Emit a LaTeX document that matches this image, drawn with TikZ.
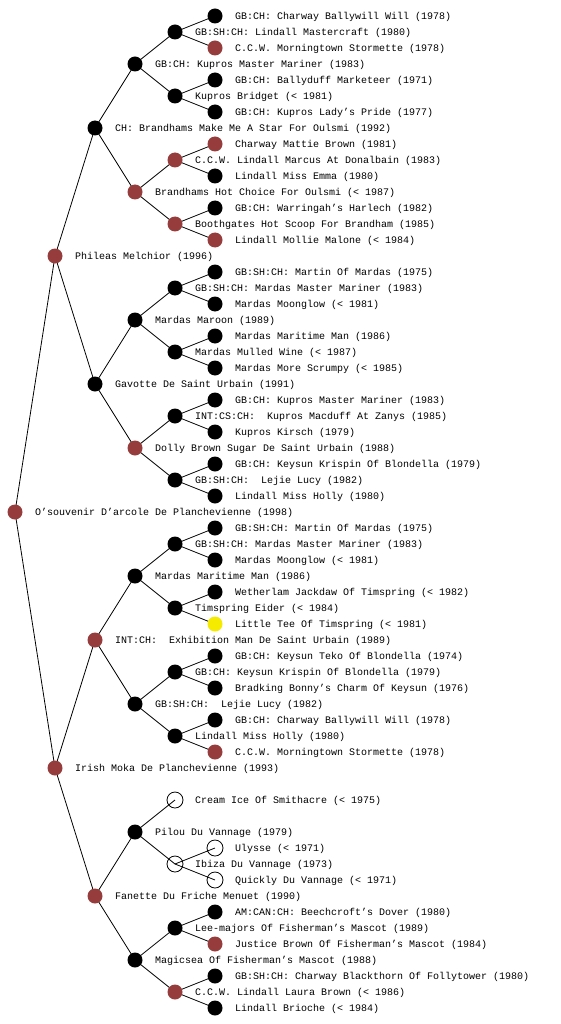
\documentclass[tikz,border=0pt]{standalone}
\usepackage{fontspec}
\setmonofont{Liberation Mono}
\usetikzlibrary{backgrounds}
\definecolor{pred}{RGB}{150,60,60}
\definecolor{pyel}{RGB}{245,235,0}
\tikzset{
  dog/.style={circle,minimum size=15pt,inner sep=0pt},
  blk/.style={dog,fill=black},
  red/.style={dog,fill=pred},
  yel/.style={dog,fill=pyel},
  wht/.style={dog,draw=black,line width=0.8pt,minimum size=16pt},
  lab/.style={anchor=west,inner sep=0pt,text height=6.5pt,text depth=0pt,
    font=\ttfamily\fontsize{10}{12}\selectfont},
  link/.style={draw=black,line width=0.8pt}
}
\newcommand\pdog[4]{%
  \node[#3] (y#2) at (#1,#2) {};
  \node[lab] (t#2) at ({#1+20},#2) {#4};}
\begin{document}
\begin{tikzpicture}[x=1pt,y=-1pt]
\useasboundingbox (0,0) rectangle (560,1024);
% level x: 15,55,95,135,175,215
\pdog{215}{16}{blk}{GB:CH: Charway Ballywill Will (1978)}
\pdog{175}{32}{blk}{GB:SH:CH: Lindall Mastercraft (1980)}
\pdog{215}{48}{red}{C.C.W. Morningtown Stormette (1978)}
\pdog{135}{64}{blk}{GB:CH: Kupros Master Mariner (1983)}
\pdog{215}{80}{blk}{GB:CH: Ballyduff Marketeer (1971)}
\pdog{175}{96}{blk}{Kupros Bridget (< 1981)}
\pdog{215}{112}{blk}{GB:CH: Kupros Lady’s Pride (1977)}
\pdog{95}{128}{blk}{CH: Brandhams Make Me A Star For Oulsmi (1992)}
\pdog{215}{144}{red}{Charway Mattie Brown (1981)}
\pdog{175}{160}{red}{C.C.W. Lindall Marcus At Donalbain (1983)}
\pdog{215}{176}{blk}{Lindall Miss Emma (1980)}
\pdog{135}{192}{red}{Brandhams Hot Choice For Oulsmi (< 1987)}
\pdog{215}{208}{blk}{GB:CH: Warringah’s Harlech (1982)}
\pdog{175}{224}{red}{Boothgates Hot Scoop For Brandham (1985)}
\pdog{215}{240}{red}{Lindall Mollie Malone (< 1984)}
\pdog{55}{256}{red}{Phileas Melchior (1996)}
\pdog{215}{272}{blk}{GB:SH:CH: Martin Of Mardas (1975)}
\pdog{175}{288}{blk}{GB:SH:CH: Mardas Master Mariner (1983)}
\pdog{215}{304}{blk}{Mardas Moonglow (< 1981)}
\pdog{135}{320}{blk}{Mardas Maroon (1989)}
\pdog{215}{336}{blk}{Mardas Maritime Man (1986)}
\pdog{175}{352}{blk}{Mardas Mulled Wine (< 1987)}
\pdog{215}{368}{blk}{Mardas More Scrumpy (< 1985)}
\pdog{95}{384}{blk}{Gavotte De Saint Urbain (1991)}
\pdog{215}{400}{blk}{GB:CH: Kupros Master Mariner (1983)}
\pdog{175}{416}{blk}{INT:CS:CH:~~Kupros Macduff At Zanys (1985)}
\pdog{215}{432}{blk}{Kupros Kirsch (1979)}
\pdog{135}{448}{red}{Dolly Brown Sugar De Saint Urbain (1988)}
\pdog{215}{464}{blk}{GB:CH: Keysun Krispin Of Blondella (1979)}
\pdog{175}{480}{blk}{GB:SH:CH:~~Lejie Lucy (1982)}
\pdog{215}{496}{blk}{Lindall Miss Holly (1980)}
\pdog{15}{512}{red}{O’souvenir D’arcole De Planchevienne (1998)}
\pdog{215}{528}{blk}{GB:SH:CH: Martin Of Mardas (1975)}
\pdog{175}{544}{blk}{GB:SH:CH: Mardas Master Mariner (1983)}
\pdog{215}{560}{blk}{Mardas Moonglow (< 1981)}
\pdog{135}{576}{blk}{Mardas Maritime Man (1986)}
\pdog{215}{592}{blk}{Wetherlam Jackdaw Of Timspring (< 1982)}
\pdog{175}{608}{blk}{Timspring Eider (< 1984)}
\pdog{215}{624}{yel}{Little Tee Of Timspring (< 1981)}
\pdog{95}{640}{red}{INT:CH:~~Exhibition Man De Saint Urbain (1989)}
\pdog{215}{656}{blk}{GB:CH: Keysun Teko Of Blondella (1974)}
\pdog{175}{672}{blk}{GB:CH: Keysun Krispin Of Blondella (1979)}
\pdog{215}{688}{blk}{Bradking Bonny’s Charm Of Keysun (1976)}
\pdog{135}{704}{blk}{GB:SH:CH:~~Lejie Lucy (1982)}
\pdog{215}{720}{blk}{GB:CH: Charway Ballywill Will (1978)}
\pdog{175}{736}{blk}{Lindall Miss Holly (1980)}
\pdog{215}{752}{red}{C.C.W. Morningtown Stormette (1978)}
\pdog{55}{768}{red}{Irish Moka De Planchevienne (1993)}
\pdog{175}{800}{wht}{Cream Ice Of Smithacre (< 1975)}
\pdog{135}{832}{blk}{Pilou Du Vannage (1979)}
\pdog{215}{848}{wht}{Ulysse (< 1971)}
\pdog{175}{864}{wht}{Ibiza Du Vannage (1973)}
\pdog{215}{880}{wht}{Quickly Du Vannage (< 1971)}
\pdog{95}{896}{red}{Fanette Du Friche Menuet (1990)}
\pdog{215}{912}{blk}{AM:CAN:CH: Beechcroft’s Dover (1980)}
\pdog{175}{928}{blk}{Lee-majors Of Fisherman’s Mascot (1989)}
\pdog{215}{944}{red}{Justice Brown Of Fisherman’s Mascot (1984)}
\pdog{135}{960}{blk}{Magicsea Of Fisherman’s Mascot (1988)}
\pdog{215}{976}{blk}{GB:SH:CH: Charway Blackthorn Of Follytower (1980)}
\pdog{175}{992}{red}{C.C.W. Lindall Laura Brown (< 1986)}
\pdog{215}{1008}{blk}{Lindall Brioche (< 1984)}
\begin{scope}[on background layer]
\fill[white] (0,0) rectangle (560,1024);
\foreach \p/\c in {512/256,512/768,
  256/128,256/384,768/640,768/896,
  128/64,128/192,384/320,384/448,640/576,640/704,896/832,896/960,
  64/32,64/96,192/160,192/224,320/288,320/352,448/416,448/480,
  576/544,576/608,704/672,704/736,832/800,832/864,960/928,960/992,
  32/16,32/48,96/80,96/112,160/144,160/176,224/208,224/240,
  288/272,288/304,352/336,352/368,416/400,416/432,480/464,480/496,
  544/528,544/560,608/592,608/624,672/656,672/688,736/720,736/752,
  864/848,864/880,928/912,928/944,992/976,992/1008}
  {\draw[link] (y\p.center) -- (y\c.center);}
\end{scope}
\end{tikzpicture}
\end{document}
